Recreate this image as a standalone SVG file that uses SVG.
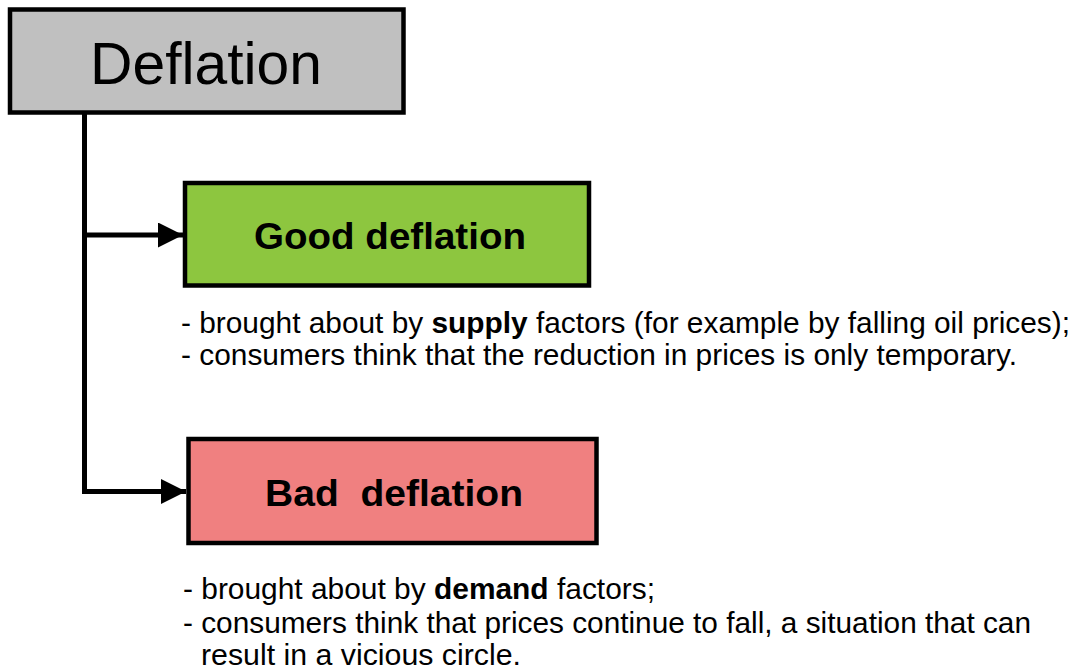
<svg xmlns="http://www.w3.org/2000/svg" width="1077" height="672" viewBox="0 0 1077 672">
<style>
.box{stroke:#000;stroke-width:4.5}
.conn{stroke:#000;stroke-width:5;fill:none}
.title{font-family:"Liberation Sans",Arial,sans-serif;fill:#000}
.head{font-family:"Liberation Sans",Arial,sans-serif;font-weight:bold;font-size:37px;fill:#000}
.body{font-family:"Liberation Sans",Arial,sans-serif;font-size:29px;fill:#000}
.b{font-weight:bold}
</style>
<defs>
<marker id="arr" markerUnits="userSpaceOnUse" markerWidth="26" markerHeight="26" refX="25" refY="12.5" orient="auto">
<path d="M0,0 L25,12.5 L0,25 z" fill="#000"/>
</marker>
</defs>
<rect width="1077" height="672" fill="#fff"/>
<g id="connectors">
<line class="conn" x1="84.5" y1="112" x2="84.5" y2="494"/>
<line class="conn" x1="82" y1="235" x2="183" y2="235" marker-end="url(#arr)"/>
<line class="conn" x1="82" y1="491.5" x2="186" y2="491.5" marker-end="url(#arr)"/>
</g>
<g id="node-deflation">
<rect class="box" x="10" y="9.5" width="393.5" height="103" fill="#C0C0C0"/>
<text class="title" x="90" y="84" font-size="60" textLength="232" lengthAdjust="spacingAndGlyphs">Deflation</text>
</g>
<g id="node-good">
<rect class="box" x="185" y="183" width="404" height="102.5" fill="#8DC63F"/>
<text class="head" x="254" y="249" textLength="272" lengthAdjust="spacingAndGlyphs">Good deflation</text>
</g>
<g id="text-good">
<text class="body" x="181" y="333" textLength="889" lengthAdjust="spacingAndGlyphs">- brought about by <tspan class="b">supply</tspan> factors (for example by falling oil prices);</text>
<text class="body" x="181" y="365" textLength="836" lengthAdjust="spacingAndGlyphs">- consumers think that the reduction in prices is only temporary.</text>
</g>
<g id="node-bad">
<rect class="box" x="188.5" y="439" width="408" height="104" fill="#F08080"/>
<text class="head" x="265" y="506" textLength="258" lengthAdjust="spacingAndGlyphs" xml:space="preserve">Bad  deflation</text>
</g>
<g id="text-bad">
<text class="body" x="183" y="599" textLength="472" lengthAdjust="spacingAndGlyphs">- brought about by <tspan class="b">demand</tspan> factors;</text>
<text class="body" x="183" y="633" textLength="848" lengthAdjust="spacingAndGlyphs">- consumers think that prices continue to fall, a situation that can</text>
<text class="body" x="201" y="665" textLength="320" lengthAdjust="spacingAndGlyphs">result in a vicious circle.</text>
</g>
</svg>
